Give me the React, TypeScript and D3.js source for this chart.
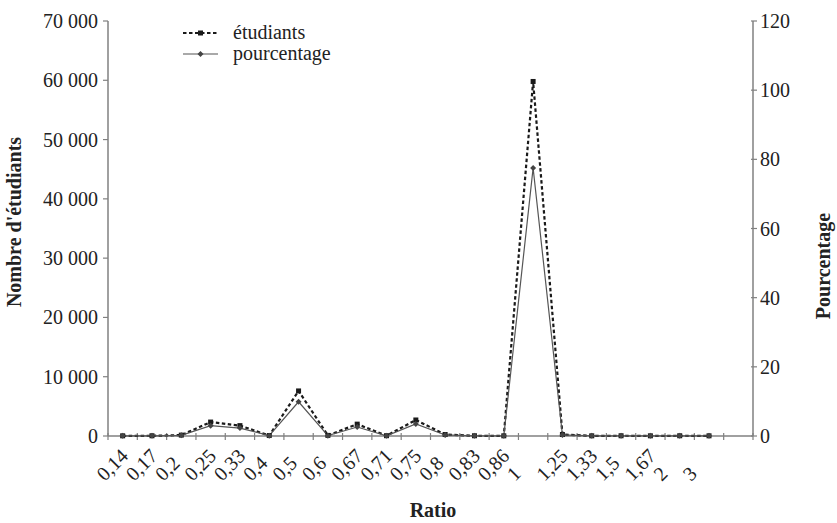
import React from "react";
import * as d3 from "d3";

const categories = ["0,14","0,17","0,2","0,25","0,33","0,4","0,5","0,6","0,67","0,71","0,75","0,8","0,83","0,86","1","1,25","1,33","1,5","1,67","2","3",""];
const etudiants = [30,40,150,2350,1750,80,7600,100,2000,50,2700,250,40,30,59800,250,30,40,30,40,30];
const pourcentage = [0.05,0.05,0.2,3.0,2.3,0.1,9.9,0.1,2.6,0.05,3.5,0.3,0.05,0.05,77.5,0.3,0.05,0.05,0.05,0.05,0.05];
const leftTicks = [0,10000,20000,30000,40000,50000,60000,70000];
const rightTicks = [0,20,40,60,80,100,120];

const W = 837, H = 523;
const L = 108, R = 753, T = 21, B = 436;
const FONT = "Liberation Serif, Times New Roman, serif";
const AX = "#808080";

export default function App() {
  const x = d3.scaleBand<string>().domain(categories.map((c, i) => String(i))).range([L, R]).padding(0);
  const yL = d3.scaleLinear().domain([0, 70000]).range([B, T]);
  const yR = d3.scaleLinear().domain([0, 120]).range([B, T]);
  const cx = (i: number) => (x(String(i)) as number) + x.bandwidth() / 2;
  const fmt = (v: number) => d3.format(",")(v).replace(/,/g, " ");

  const lineE = d3.line<number>().x((_, i) => cx(i)).y((d) => yL(d));
  const lineP = d3.line<number>().x((_, i) => cx(i)).y((d) => yR(d));

  const edges = categories.map((_, i) => x(String(i)) as number).concat([R]);

  return (
    <svg width={W} height={H} style={{ position: "absolute", left: 0, top: 0, background: "#fff" }} fontFamily={FONT}>
      {/* left axis */}
      <line x1={L} x2={L} y1={T} y2={B} stroke={AX} strokeWidth={1.5} />
      {leftTicks.map((t) => (
        <g key={t}>
          <line x1={L - 5} x2={L} y1={yL(t)} y2={yL(t)} stroke={AX} strokeWidth={1.2} />
          <text x={L - 10} y={yL(t)} dy="0.35em" textAnchor="end" fontSize={20} fill="#222">{fmt(t)}</text>
        </g>
      ))}
      {/* right axis */}
      <line x1={R} x2={R} y1={T} y2={B} stroke={AX} strokeWidth={1.5} />
      {rightTicks.map((t) => (
        <g key={t}>
          <line x1={R - 2} x2={R + 4} y1={yR(t)} y2={yR(t)} stroke={AX} strokeWidth={1.2} />
          <text x={R + 7} y={yR(t)} dy="0.35em" textAnchor="start" fontSize={20} fill="#222">{t}</text>
        </g>
      ))}
      {/* x axis */}
      <line x1={L} x2={R} y1={B} y2={B} stroke={AX} strokeWidth={1.5} />
      {edges.map((e, i) => (
        <line key={i} x1={e} x2={e} y1={B - 3} y2={B + 4} stroke={AX} strokeWidth={1.2} />
      ))}
      {categories.map((c, i) => c ? (
        <text key={i} transform={`translate(${cx(i) - 18},${B + 46}) rotate(-45)`} textAnchor="start" fontSize={20} fill="#222">{c}</text>
      ) : null)}
      {/* series */}
      <path d={lineE(etudiants) || ""} fill="none" stroke="#1a1a1a" strokeWidth={2.2} strokeDasharray="3.5,2.5" />
      <path d={lineP(pourcentage) || ""} fill="none" stroke="#555" strokeWidth={1.2} />
      {etudiants.map((v, i) => (
        <rect key={i} x={cx(i) - 2.5} y={yL(v) - 2.5} width={5} height={5} fill="#1a1a1a" />
      ))}
      {pourcentage.map((v, i) => (
        <path key={i} d={`M${cx(i)},${yR(v) - 3}L${cx(i) + 3},${yR(v)}L${cx(i)},${yR(v) + 3}L${cx(i) - 3},${yR(v)}Z`} fill="#444" />
      ))}
      {/* titles */}
      <text transform={`translate(21,222) rotate(-90)`} textAnchor="middle" fontSize={20} fontWeight="bold" fill="#222">Nombre d'étudiants</text>
      <text transform={`translate(830,266) rotate(-90)`} textAnchor="middle" fontSize={20} fontWeight="bold" fill="#222">Pourcentage</text>
      <text x={433} y={517} textAnchor="middle" fontSize={20} fontWeight="bold" fill="#222">Ratio</text>
      {/* legend */}
      <line x1={183} x2={218} y1={33} y2={33} stroke="#1a1a1a" strokeWidth={2.2} strokeDasharray="3.5,2.5" />
      <rect x={198} y={30.5} width={5} height={5} fill="#1a1a1a" />
      <text x={233} y={39} fontSize={20} fill="#222">étudiants</text>
      <line x1={183} x2={218} y1={54} y2={54} stroke="#555" strokeWidth={1.2} />
      <path d="M200.5,51L203.5,54L200.5,57L197.5,54Z" fill="#444" />
      <text x={233} y={60} fontSize={20} fill="#222">pourcentage</text>
    </svg>
  );
}
